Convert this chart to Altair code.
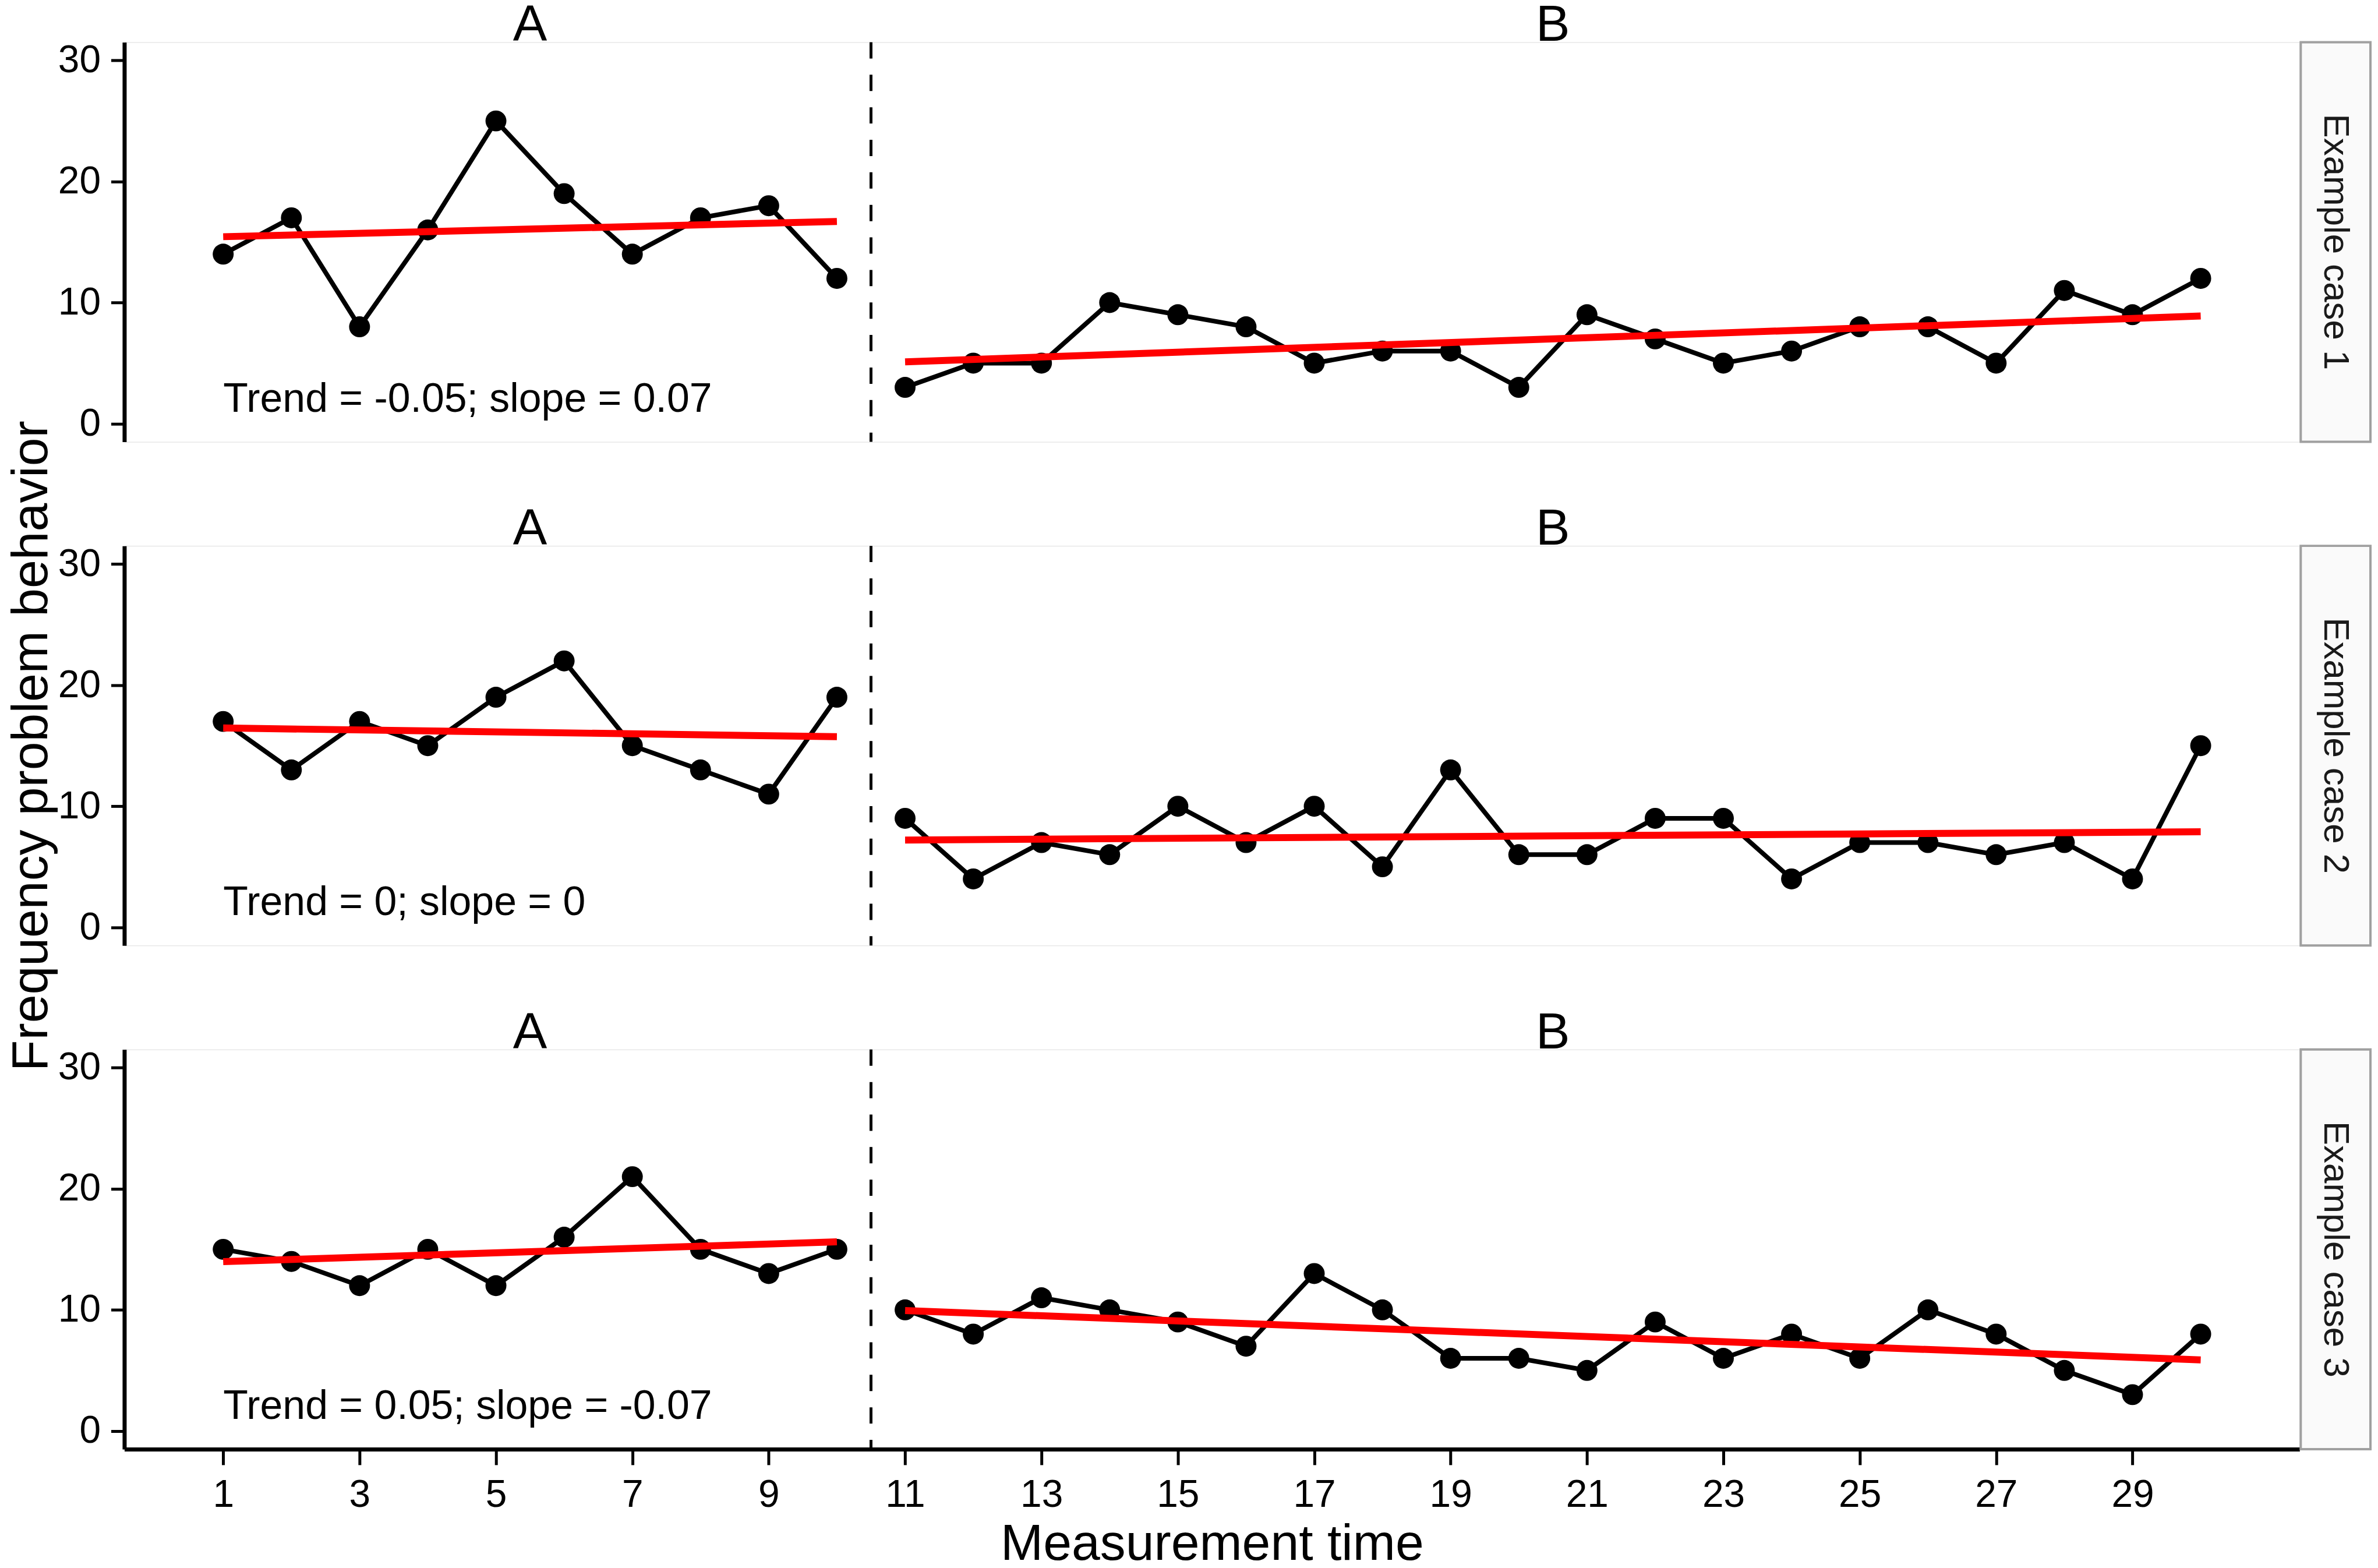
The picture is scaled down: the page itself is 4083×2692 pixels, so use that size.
import altair as alt
import pandas as pd

# ---------------- data ----------------
times = list(range(1, 31))
phases = ["A"] * 10 + ["B"] * 20
case_labels = ["Example case 1", "Example case 2", "Example case 3"]

case1_values = [14, 17, 8, 16, 25, 19, 14, 17, 18, 12,
                3, 5, 5, 10, 9, 8, 5, 6, 6, 3, 9, 7, 5, 6, 8, 8, 5, 11, 9, 12]
case2_values = [17, 13, 17, 15, 19, 22, 15, 13, 11, 19,
                9, 4, 7, 6, 10, 7, 10, 5, 13, 6, 6, 9, 9, 4, 7, 7, 6, 7, 4, 15]
case3_values = [15, 14, 12, 15, 12, 16, 21, 15, 13, 15,
                10, 8, 11, 10, 9, 7, 13, 10, 6, 6, 5, 9, 6, 8, 6, 10, 8, 5, 3, 8]

# trend lines per phase: x start/end and fitted values at start/end
fit_phase = ["A", "A", "B", "B"]
fit_times = [1, 10, 11, 30]
case1_fit = [15.44, 16.70, 5.11, 8.89]
case2_fit = [16.46, 15.74, 7.21, 7.89]
case3_fit = [13.98, 15.62, 9.94, 5.87]

annotations = ["Trend = -0.05; slope = 0.07",
               "Trend = 0; slope = 0",
               "Trend = 0.05; slope = -0.07"]
annot_time = 1
annot_value = 2

phase_names = ["A", "B"]
phase_label_times = [5.5, 20.5]
phase_label_value = 31.6

phase_change = 10.5

x_ticks = list(range(1, 30, 2))
y_ticks = [0, 10, 20, 30]
x_domain = [-0.45, 31.45]
y_domain = [-1.5, 31.5]

all_values = [case1_values, case2_values, case3_values]
all_fits = [case1_fit, case2_fit, case3_fit]

# ---------------- layout ----------------
W = 3745
H = 688
FONT = "Liberation Sans"


def make_panel(i):
    values = all_values[i]
    df = pd.DataFrame({"t": times, "value": values, "phase": phases})
    fit_df = pd.DataFrame({"t": fit_times, "value": all_fits[i], "phase": fit_phase})
    annot_df = pd.DataFrame({"t": [annot_time], "value": [annot_value], "label": [annotations[i]]})
    plabel_df = pd.DataFrame({"t": phase_label_times,
                              "value": [phase_label_value] * 2,
                              "label": phase_names})
    rule_df = pd.DataFrame({"t": [phase_change]})
    strip_df = pd.DataFrame({"label": [case_labels[i]]})

    bottom = i == 2
    if bottom:
        x_axis = alt.Axis(values=x_ticks, title="Measurement time", grid=False,
                          tickSize=27, tickWidth=5, domainWidth=7,
                          domainColor="black", tickColor="black",
                          labelColor="black", titleColor="black",
                          labelFont=FONT, titleFont=FONT,
                          labelFontSize=66, titleFontSize=88,
                          titleFontWeight="normal", labelPadding=20,
                          titlePadding=8)
    else:
        x_axis = None

    y_axis = alt.Axis(values=y_ticks,
                      title="Frequency problem behavior" if i == 1 else None,
                      grid=False, tickSize=23, tickWidth=5, domainWidth=7,
                      domainColor="black", tickColor="black",
                      labelColor="black", titleColor="black",
                      labelFont=FONT, titleFont=FONT,
                      labelFontSize=66, titleFontSize=88,
                      titleFontWeight="normal", labelPadding=18,
                      titlePadding=1)

    def X(field="t"):
        return alt.X(f"{field}:Q", scale=alt.Scale(domain=x_domain, nice=False, zero=False),
                     axis=x_axis)

    def Y(field="value"):
        return alt.Y(f"{field}:Q", scale=alt.Scale(domain=y_domain, nice=False, zero=False),
                     axis=y_axis)

    base_line = alt.Chart(df).mark_line(color="black", strokeWidth=8).encode(
        x=X(), y=Y(), detail="phase:N")
    pts = alt.Chart(df).mark_circle(size=1300, color="black", opacity=1).encode(
        x=X(), y=Y())
    fit = alt.Chart(fit_df).mark_line(color="#FF0000", strokeWidth=12).encode(
        x=X(), y=Y(), detail="phase:N")
    rule = alt.Chart(rule_df).mark_rule(color="black", strokeWidth=5,
                                        strokeDash=[28, 28]).encode(
        x=X(), y=alt.value(0), y2=alt.value(H))
    annot = alt.Chart(annot_df).mark_text(align="left", baseline="middle",
                                          fontSize=70, font=FONT, color="black").encode(
        x=X(), y=Y(), text="label:N")
    plabel = alt.Chart(plabel_df).mark_text(align="center", baseline="alphabetic",
                                            fontSize=88, font=FONT, color="black").encode(
        x=X(), y=Y(), text="label:N")
    strip = alt.Chart(strip_df).mark_rect(fill="#FAFAFA", stroke="#A0A0A0",
                                          strokeWidth=4).encode(
        x=alt.value(W + 2), x2=alt.value(W + 122), y=alt.value(0), y2=alt.value(H))
    strip_text = alt.Chart(strip_df).mark_text(angle=90, align="center", baseline="middle",
                                               fontSize=62, font=FONT,
                                               color="#1A1A1A").encode(
        x=alt.value(W + 62), y=alt.value(H / 2), text="label:N")

    return alt.layer(base_line, pts, fit, rule, annot, plabel, strip, strip_text).properties(
        width=W, height=H)


chart = alt.vconcat(*[make_panel(i) for i in range(3)], spacing=179, bounds="flush").properties(
    padding={"left": 2, "top": -12, "right": 2, "bottom": 0}
).configure_view(stroke=None).configure(font=FONT, background="white")

chart.save("out.html", embed_options={"renderer": "svg", "actions": False})
